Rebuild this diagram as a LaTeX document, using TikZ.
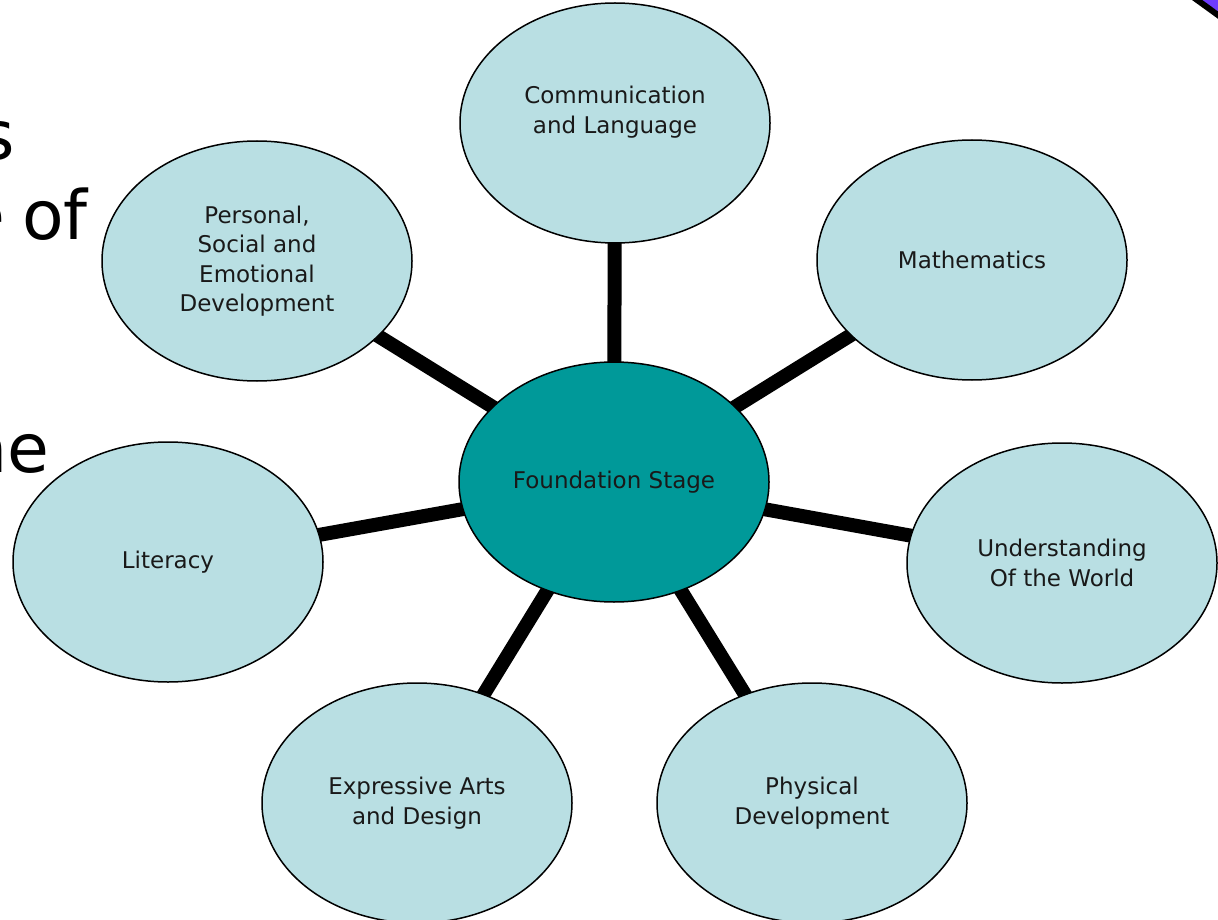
\documentclass[tikz,border=0pt]{standalone}
\usepackage{fontspec}
\setmainfont{DejaVu Sans}
\usetikzlibrary{shapes.geometric,backgrounds}
\definecolor{bubble}{RGB}{185,223,227}
\definecolor{hub}{RGB}{0,153,153}
\definecolor{corner}{RGB}{110,60,255}
\definecolor{ink}{RGB}{25,25,25}
\tikzset{
  topic/.style={ellipse, draw=black, line width=1.5pt, fill=bubble, inner sep=0pt,
    minimum width=310pt, minimum height=240pt, align=center, text=ink,
    font=\fontsize{23pt}{29.5pt}\selectfont},
  hubnode/.style={topic, fill=hub},
  lbl/.style={align=center, text=ink, inner sep=0pt, font=\fontsize{23pt}{29.5pt}\selectfont},
  spoke/.style={line width=14pt, draw=black},
  slidetext/.style={inner sep=0pt, text=black, font=\fontsize{68pt}{80pt}\selectfont}
}
\begin{document}
\begin{tikzpicture}[x=1pt,y=-1pt]
\useasboundingbox (0,0) rectangle (1218,920);
\begin{scope}
\clip (0,0) rectangle (1218,920);
% slide text fragments at the left edge
\node[slidetext, anchor=base east] (frag1) at (15,160) {s};
\node[slidetext, anchor=base east] (frag2) at (88,240) {e\hspace{17pt}of};
\node[slidetext, anchor=base east] (frag3) at (50,472) {ne};
% corner decoration
\fill[corner] (1198,-2) -- (1222,-2) -- (1222,14) -- cycle;
\draw[line width=6pt, black] (1193,-3) -- (1222,18);

\node[hubnode] (fs) at (614,482) {Foundation Stage};
\node[topic] (comm) at (615,123) {};
\node[lbl] (commtext) at ([yshift=11pt]comm.center) {Communication\\and Language};
\node[topic] (math) at (972,260) {Mathematics};
\node[topic] (pse) at (257,261) {Personal,\\Social and\\Emotional\\Development};
\node[topic] (lit) at (168,562) {Literacy};
\node[topic] (uw) at (1062,563) {Understanding\\Of the World};
\node[topic] (ead) at (417,803) {Expressive Arts\\and Design};
\node[topic] (pd) at (812,803) {Physical\\Development};
\begin{pgfonlayer}{background}
\foreach \n in {comm,math,pse,lit,uw,ead,pd}
  \draw[spoke] (fs.center) -- (\n.center);
\end{pgfonlayer}
\end{scope}
\end{tikzpicture}
\end{document}
